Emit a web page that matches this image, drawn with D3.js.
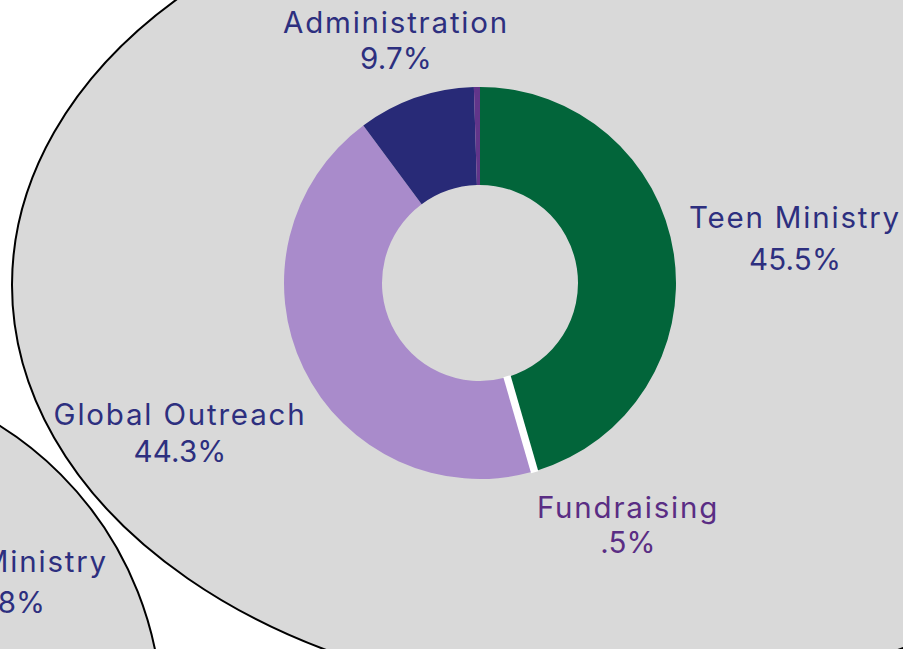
<!DOCTYPE html>
<html>
<head>
<meta charset="utf-8">
<script src="https://cdn.jsdelivr.net/npm/d3@7"></script>
<style>
  html, body { margin: 0; padding: 0; background: #ffffff; overflow: hidden; }
  svg { display: block; }
  text { font-family: Inter, "Open Sans", sans-serif; font-weight: 400; }
</style>
</head>
<body>
<svg id="chart" width="903" height="649"></svg>
<script>
// ---- data ----
const categories = ["Teen Ministry", "", "Global Outreach", "Administration", "Fundraising"];
const values     = [45.5, 0.5, 44.3, 9.7, 0.5];
const valueLabels = ["45.5%", "", "44.3%", "9.7%", ".5%"];
const sliceColors = ["#02653A", "#FFFFFF", "#A98BCB", "#282A77", "#61358A"];
const labelColors = ["#2D2F7F", null, "#2D2F7F", "#2D2F7F", "#5A2D84"];
// neighbouring (cut-off) chart label
const sideCategory = "Teen Ministry";
const sideValue = "41.8%";

// ---- layout ----
const W = 903, H = 649;
const cx = 480, cy = 283, outerR = 196, innerR = 98;
const labelPos = {
  "Teen Ministry":   { dx: 315,  y1: -55,  y2: -13 },
  "Global Outreach": { dx: -300, y1: 142,  y2: 179 },
  "Administration":  { dx: -84,  y1: -250, y2: -214 },
  "Fundraising":     { dx: 148,  y1: 235,  y2: 270 }
};
const fontSize = 29.5;
const wordSpacing = "1.8px";
const pctSpacing = "0.2px";

const svg = d3.select("#chart");

// background ellipses
svg.append("circle")
  .attr("cx", -184).attr("cy", 719).attr("r", 346)
  .attr("fill", "#D9D9D9").attr("stroke", "#000").attr("stroke-width", 2);
svg.append("ellipse")
  .attr("cx", 612).attr("cy", 285).attr("rx", 600).attr("ry", 415)
  .attr("fill", "#D9D9D9").attr("stroke", "#000").attr("stroke-width", 2);

// side label (cut off by left edge, as in the reference)
const side = svg.append("g").attr("fill", "#2D2F7F")
  .attr("font-size", fontSize).attr("text-anchor", "middle");
side.append("text").attr("x", 2).attr("y", 572).style("letter-spacing", wordSpacing).text(sideCategory);
side.append("text").attr("x", 2).attr("y", 613).style("letter-spacing", pctSpacing).text(sideValue);

// donut
const data = categories.map((c, i) => ({ cat: c, value: values[i], pct: valueLabels[i], color: sliceColors[i], lc: labelColors[i] }));
const pie = d3.pie().value(d => d.value).sort(null);
const arc = d3.arc().innerRadius(innerR).outerRadius(outerR);
const arcs = pie(data);

const g = svg.append("g").attr("transform", `translate(${cx},${cy})`);
g.selectAll("path.slice")
  .data(arcs.filter(d => d.data.cat !== ""))
  .join("path")
  .attr("class", "slice")
  .attr("d", arc)
  .attr("fill", d => d.data.color);

// the unlabeled white separator slice, drawn as a constant-width band
g.selectAll("line.sep")
  .data(arcs.filter(d => d.data.cat === ""))
  .join("line")
  .attr("class", "sep")
  .each(function(d) {
    const a = (d.startAngle + d.endAngle) / 2;
    d3.select(this)
      .attr("x1", Math.sin(a) * (innerR - 1)).attr("y1", -Math.cos(a) * (innerR - 1))
      .attr("x2", Math.sin(a) * (outerR + 1)).attr("y2", -Math.cos(a) * (outerR + 1));
  })
  .attr("stroke", d => d.data.color)
  .attr("stroke-width", 7.5);

// labels
const lab = g.selectAll("g.label")
  .data(data.filter(d => d.cat !== ""))
  .join("g")
  .attr("class", "label")
  .attr("fill", d => d.lc)
  .attr("font-size", fontSize)
  .attr("text-anchor", "middle");
lab.append("text")
  .attr("x", d => labelPos[d.cat].dx)
  .attr("y", d => labelPos[d.cat].y1)
  .style("letter-spacing", wordSpacing)
  .text(d => d.cat);
lab.append("text")
  .attr("x", d => labelPos[d.cat].dx)
  .attr("y", d => labelPos[d.cat].y2)
  .style("letter-spacing", pctSpacing)
  .text(d => d.pct);
</script>
</body>
</html>
